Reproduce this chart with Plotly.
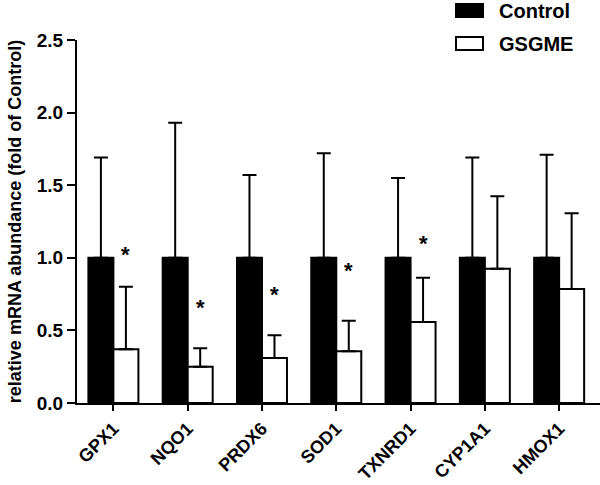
import plotly.graph_objects as go

genes = ["GPX1", "NQO1", "PRDX6", "SOD1", "TXNRD1", "CYP1A1", "HMOX1"]
control_mean = [1.0, 1.0, 1.0, 1.0, 1.0, 1.0, 1.0]
control_err = [0.69, 0.93, 0.57, 0.72, 0.55, 0.69, 0.71]
gsgme_mean = [0.37, 0.25, 0.31, 0.356, 0.558, 0.925, 0.785]
gsgme_err = [0.43, 0.127, 0.156, 0.211, 0.305, 0.499, 0.521]
star_genes = ["GPX1", "NQO1", "PRDX6", "SOD1", "TXNRD1"]
star_y = [1.04, 0.68, 0.77, 0.93, 1.12]
y_ticks = [0.0, 0.5, 1.0, 1.5, 2.0, 2.5]

FONT = "Liberation Sans, Arial, Helvetica, sans-serif"
W, H = 600, 485
ML, MR, MT, MB = 77, 0, 40, 82
PW, PH = W - ML - MR, H - MT - MB


def px2x(px):
    return (px - ML) / PW


def px2y(py):
    return (H - MB - py) / PH


fig = go.Figure()
fig.add_trace(go.Bar(
    x=genes, y=control_mean, name="Control",
    marker=dict(color="black", line=dict(color="black", width=2)),
    error_y=dict(type="data", symmetric=False, array=control_err,
                 arrayminus=[0] * len(genes), color="black", thickness=2, width=7),
    showlegend=False,
))
fig.add_trace(go.Bar(
    x=genes, y=gsgme_mean, name="GSGME",
    marker=dict(color="white", line=dict(color="black", width=2)),
    error_y=dict(type="data", symmetric=False, array=gsgme_err,
                 arrayminus=[0] * len(genes), color="black", thickness=2, width=7),
    showlegend=False,
))

for g, sy in zip(star_genes, star_y):
    fig.add_annotation(x=g, y=sy, xref="x", yref="y", text="*", showarrow=False,
                       xshift=12.5, yshift=-3, yanchor="middle",
                       font=dict(family=FONT, size=22, color="black", weight="bold"))

# custom legend
legend_items = [("Control", "black", 4, 17), ("GSGME", "white", 37, 50)]
for name, fill, y0, y1 in legend_items:
    fig.add_shape(type="rect", xref="paper", yref="paper",
                  x0=px2x(456), x1=px2x(483), y0=px2y(y1), y1=px2y(y0),
                  fillcolor=fill, line=dict(color="black", width=2), layer="above")
    fig.add_annotation(xref="paper", yref="paper", x=px2x(497), y=px2y((y0 + y1) / 2),
                       text=name, showarrow=False, xanchor="left", yanchor="middle",
                       font=dict(family=FONT, size=20, color="black", weight="bold"))

fig.update_layout(
    width=W, height=H,
    margin=dict(l=ML, r=MR, t=MT, b=MB, autoexpand=False),
    plot_bgcolor="white", paper_bgcolor="white",
    barmode="group", bargap=0.327, bargroupgap=0,
    font=dict(family=FONT, color="black"),
)
fig.update_xaxes(
    range=[-0.49, 6.55], showline=True, linewidth=2, linecolor="black",
    ticks="outside", ticklen=6, tickwidth=2, tickcolor="black",
    tickangle=-45, tickfont=dict(family=FONT, size=18, weight="bold"),
    showgrid=False, zeroline=False,
)
fig.update_yaxes(
    range=[0, 2.5], tickvals=y_ticks, tickformat=".1f",
    showline=True, linewidth=2, linecolor="black",
    ticks="outside", ticklen=8, tickwidth=2, tickcolor="black",
    tickfont=dict(family=FONT, size=19, weight="bold"),
    title=dict(text="relative mRNA abundance (fold of Control)", standoff=10,
               font=dict(family=FONT, size=18, weight="bold")),
    showgrid=False, zeroline=False,
)

fig.write_html("out.html", config={"displayModeBar": False},
               post_script="document.body.style.margin='0';document.body.style.overflow='hidden';")
